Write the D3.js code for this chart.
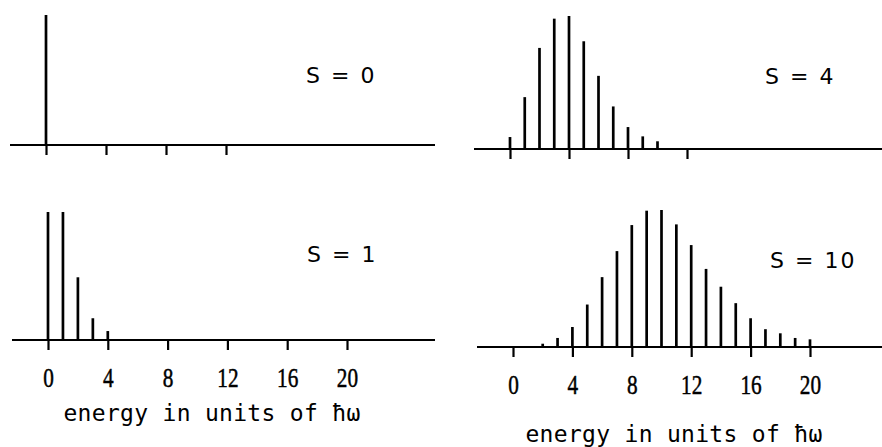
<!DOCTYPE html>
<html lang="en">
<head>
  <meta charset="UTF-8">
  <title>Poisson progressions for S = 0, 1, 4, 10</title>
  <script src="https://d3js.org/d3.v7.min.js"></script>
  <style>
    body { margin: 0; background: #fff; }
    .bar { stroke: #000; stroke-width: 2.7; }
    .baseline { stroke: #000; stroke-width: 2.2; }
    .s-label {
      font-family: "DejaVu Sans", sans-serif;
      font-size: 22px;
      letter-spacing: 2px;
      fill: #000;
    }
    .tick-label {
      font-family: "Liberation Serif", serif;
      font-size: 28px;
      fill: #000;
      stroke: #000;
      stroke-width: 0.5px;
    }
    .axis-label {
      font-family: "DejaVu Sans Mono", monospace;
      font-size: 23px;
      letter-spacing: 0.3px;
      fill: #000;
      text-anchor: middle;
    }
  </style>
</head>
<body>
  <svg id="chart" width="882" height="447"></svg>

  <script>
    // relative intensity of each vibronic line (n = 0, 1, 2, ...)
    const s0 = [1];
    const s1 = [1, 1, 0.49, 0.17, 0.07];
    const s4 = [0.09, 0.39, 0.76, 0.98, 1, 0.81, 0.55, 0.32, 0.165, 0.095, 0.058];
    const s10 = [0, 0, 0.024, 0.066, 0.146, 0.31, 0.51, 0.70, 0.89, 0.995, 1,
                 0.895, 0.744, 0.57, 0.44, 0.32, 0.21, 0.13, 0.10, 0.066, 0.056];

    const topTicks = [0, 4, 8, 12];
    const bottomTicks = [0, 4, 8, 12, 16, 20];
    const axisTitle = "energy in units of \u0127\u03c9";

    // panel layout (pixels)
    const panels = [
      { values: s0, name: "S = 0", ticks: topTicks, labels: false,
        x0: 46, x20: 346, axisL: 10, axisR: 435, base: 145, top: 15, nameX: 306, nameY: 83 },
      { values: s4, name: "S = 4", ticks: topTicks, labels: false,
        x0: 510, x20: 805, axisL: 474, axisR: 882, base: 149, top: 16, nameX: 765, nameY: 84 },
      { values: s1, name: "S = 1", ticks: bottomTicks, labels: true,
        x0: 48, x20: 347, axisL: 12, axisR: 435, base: 340, top: 212, nameX: 307, nameY: 262,
        titleX: 212, titleY: 421 },
      { values: s10, name: "S = 10", ticks: bottomTicks, labels: true,
        x0: 513, x20: 810, axisL: 477, axisR: 882, base: 347, top: 210, nameX: 770, nameY: 268,
        titleX: 674, titleY: 442 }
    ];

    const svg = d3.select("#chart");
    svg.append("rect").attr("width", 882).attr("height", 447).attr("fill", "#fff");

    panels.forEach(p => {
      const x = d3.scaleLinear().domain([0, 20]).range([p.x0, p.x20]);
      const y = d3.scaleLinear().domain([0, 1]).range([p.base, p.top]);
      const g = svg.append("g");

      // baseline
      g.append("line")
        .attr("class", "baseline")
        .attr("x1", p.axisL).attr("x2", p.axisR)
        .attr("y1", p.base).attr("y2", p.base);

      // ticks (and labels on the lower panels)
      const axis = d3.axisBottom(x)
        .tickValues(p.ticks)
        .tickSize(10)
        .tickPadding(17)
        .tickFormat(p.labels ? d3.format("d") : () => "");
      const ax = g.append("g")
        .attr("transform", "translate(0," + p.base + ")")
        .call(axis);
      ax.select(".domain").remove();
      ax.selectAll(".tick line").attr("stroke", "#000").attr("stroke-width", 2.2);
      ax.selectAll(".tick text")
        .attr("class", "tick-label")
        .attr("font-size", null)
        .attr("font-family", null)
        .attr("dy", "0.71em")
        .attr("transform", "scale(0.76,1)");

      // vibronic lines
      const lines = p.values.map((v, n) => ({ n, v })).filter(d => d.v > 0);
      g.selectAll(".bar")
        .data(lines)
        .enter()
        .append("line")
        .attr("class", "bar")
        .attr("x1", d => x(d.n)).attr("x2", d => x(d.n))
        .attr("y1", p.base).attr("y2", d => y(d.v));

      // S label
      g.append("text")
        .attr("class", "s-label")
        .attr("x", p.nameX)
        .attr("y", p.nameY)
        .attr("xml:space", "preserve")
        .text(p.name);

      if (p.titleY) {
        g.append("text")
          .attr("class", "axis-label")
          .attr("x", p.titleX)
          .attr("y", p.titleY)
          .text(axisTitle);
      }
    });
  </script>
</body>
</html>
